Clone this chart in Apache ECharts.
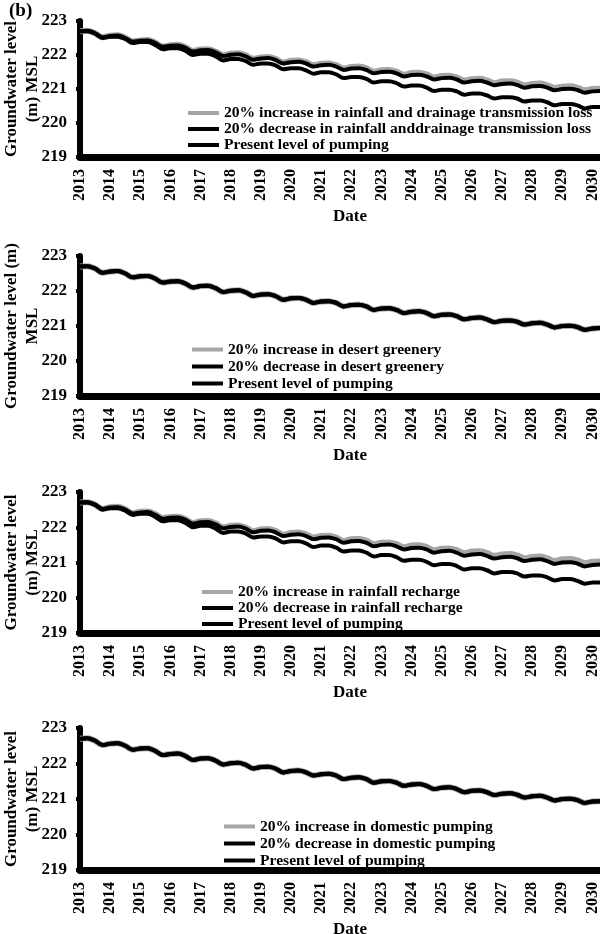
<!DOCTYPE html>
<html><head><meta charset="utf-8">
<script src="https://cdn.jsdelivr.net/npm/echarts@6/dist/echarts.min.js"></script>
<style>html,body{margin:0;padding:0;background:#fff}#c{width:600px;height:934px}</style>
</head><body><div id="c"></div>
<script>
// ---- tick labels ----
const years = ['2013','2014','2015','2016','2017','2018','2019','2020','2021','2022','2023','2024','2025','2026','2027','2028','2029','2030'];
const quarterMonths = ['01','04','07','10'];
const yTicks = [219, 220, 221, 222, 223];

// ---- series values (quarterly readings, Jan/Apr/Jul/Oct) ----
const presentLevel = [
  222.70,222.71,222.64,222.52, 222.56,222.57,222.50,222.39, 222.42,222.43,222.35,222.24,
  222.27,222.28,222.21,222.10, 222.14,222.15,222.08,221.97, 222.01,222.02,221.96,221.86,
  221.90,221.91,221.85,221.75, 221.79,221.80,221.75,221.66, 221.70,221.71,221.66,221.56,
  221.60,221.61,221.56,221.46, 221.50,221.51,221.46,221.37, 221.41,221.42,221.37,221.28,
  221.32,221.33,221.28,221.19, 221.23,221.24,221.19,221.11, 221.15,221.16,221.12,221.04,
  221.08,221.09,221.04,220.96, 221.00,221.01,220.97,220.89, 220.93,220.94
];
const rainDrainIncrease = [
  222.70,222.71,222.64,222.52, 222.57,222.58,222.51,222.40, 222.43,222.44,222.36,222.25,
  222.29,222.30,222.23,222.12, 222.16,222.17,222.10,221.99, 222.04,222.05,221.99,221.89,
  221.93,221.94,221.88,221.78, 221.83,221.84,221.79,221.70, 221.74,221.75,221.70,221.60,
  221.65,221.66,221.61,221.51, 221.55,221.56,221.51,221.42, 221.47,221.48,221.43,221.34,
  221.38,221.39,221.34,221.25, 221.29,221.30,221.25,221.17, 221.22,221.23,221.19,221.11,
  221.15,221.16,221.11,221.03, 221.07,221.08,221.04,220.96, 221.00,221.01
];
const rainDrainDecrease = [
  222.70,222.70,222.63,222.50, 222.54,222.54,222.47,222.35, 222.38,222.38,222.29,222.17,
  222.20,222.20,222.12,222.00, 222.04,222.04,221.96,221.84, 221.88,221.88,221.82,221.71,
  221.75,221.75,221.69,221.58, 221.61,221.61,221.55,221.45, 221.49,221.49,221.43,221.32,
  221.35,221.35,221.30,221.19, 221.23,221.23,221.17,221.07, 221.10,221.10,221.04,220.94,
  220.98,220.98,220.93,220.83, 220.87,220.87,220.81,220.72, 220.76,220.76,220.72,220.63,
  220.66,220.66,220.61,220.52, 220.56,220.56,220.52,220.43, 220.47,220.47
];
// desert greenery and domestic pumping scenarios overlap the present level in the figure
const desertIncrease = presentLevel.slice();
const desertDecrease = presentLevel.slice();
const rechargeIncrease = [
  222.70,222.71,222.64,222.52, 222.57,222.58,222.51,222.40, 222.44,222.45,222.37,222.26,
  222.29,222.30,222.23,222.12, 222.17,222.18,222.11,222.00, 222.04,222.05,221.99,221.89,
  221.94,221.95,221.89,221.79, 221.84,221.85,221.80,221.71, 221.75,221.76,221.71,221.61,
  221.66,221.67,221.62,221.52, 221.56,221.57,221.52,221.43, 221.48,221.49,221.44,221.35,
  221.39,221.40,221.35,221.26, 221.31,221.32,221.27,221.19, 221.23,221.24,221.20,221.12,
  221.16,221.17,221.12,221.04, 221.09,221.10,221.06,220.98, 221.02,221.03
];
const rechargeDecrease = [
  222.70,222.70,222.63,222.50, 222.54,222.54,222.47,222.35, 222.38,222.38,222.29,222.17,
  222.20,222.20,222.12,222.00, 222.04,222.04,221.96,221.84, 221.88,221.88,221.82,221.71,
  221.74,221.74,221.68,221.57, 221.60,221.60,221.54,221.44, 221.48,221.48,221.42,221.31,
  221.34,221.34,221.28,221.17, 221.21,221.21,221.15,221.05, 221.08,221.08,221.02,220.92,
  220.96,220.96,220.90,220.80, 220.84,220.84,220.78,220.69, 220.73,220.73,220.69,220.60,
  220.63,220.63,220.58,220.49, 220.53,220.53,220.48,220.40, 220.43,220.43
];
const domesticIncrease = presentLevel.slice();
const domesticDecrease = presentLevel.slice();

// ---- legend texts ----
const namesRainDrain = ['20% increase in rainfall and drainage transmission loss','20% decrease in rainfall anddrainage transmission loss','Present level of pumping'];
const namesDesert = ['20% increase in desert greenery','20% decrease in desert greenery','Present level of pumping'];
const namesRecharge = ['20% increase in rainfall recharge','20% decrease in rainfall recharge','Present level of pumping'];
const namesDomestic = ['20% increase in domestic pumping','20% decrease in domestic pumping','Present level of pumping'];
const yTitles = ['Groundwater level\n(m) MSL','Groundwater level (m)\nMSL','Groundwater level\n(m) MSL','Groundwater level\n(m) MSL'];

// ---- build ----
const categories = [];
years.forEach(y => quarterMonths.forEach(m => categories.push(y + '-' + m)));
categories.length = presentLevel.length;

const panels = [
  {top: 21, bottom: 777, names: namesRainDrain, data: [rainDrainIncrease, rainDrainDecrease, presentLevel], lg: {left: 188, top: 105, lh: 15.7}},
  {top: 256, bottom: 538, names: namesDesert, data: [desertIncrease, desertDecrease, presentLevel], lg: {left: 192, top: 341, lh: 17}},
  {top: 492, bottom: 301, names: namesRecharge, data: [rechargeIncrease, rechargeDecrease, presentLevel], lg: {left: 202, top: 584, lh: 15.3}},
  {top: 728, bottom: 64, names: namesDomestic, data: [domesticIncrease, domesticDecrease, presentLevel], lg: {left: 224, top: 818, lh: 17}}
];

const FONT = 'Liberation Serif';
const grid = [], xAxis = [], yAxis = [], series = [], legend = [];
const colors = ['#a5a5a5', '#000000', '#000000'];
const widths = [6, 4, 4];

panels.forEach((p, i) => {
  grid.push({left: 80, right: 0, top: p.top, bottom: p.bottom, containLabel: false, outerBoundsMode: 'none'});
  xAxis.push({
    type: 'category', gridIndex: i, data: categories, boundaryGap: false,
    axisLine: {show: true, lineStyle: {color: '#000', width: 7}},
    axisTick: {show: false},
    axisLabel: {interval: 3, rotate: 90, margin: 12, fontFamily: FONT, fontWeight: 'bold', fontSize: 16, color: '#000',
      formatter: v => v.slice(0, 4)},
    splitLine: {show: false},
    name: 'Date', nameLocation: 'middle', nameGap: 51, nameMoveOverlap: false,
    nameTextStyle: {fontFamily: FONT, fontWeight: 'bold', fontSize: 17, color: '#000', padding: [0, 0, 0, 20]}
  });
  yAxis.push({
    type: 'value', gridIndex: i, min: yTicks[0], max: yTicks[yTicks.length - 1], interval: 1,
    axisLine: {show: true, lineStyle: {color: '#000', width: 6}},
    axisTick: {show: true, length: 4, lineStyle: {color: '#000', width: 4}},
    axisLabel: {margin: 13, fontFamily: FONT, fontWeight: 'bold', fontSize: 17, color: '#000'},
    splitLine: {show: false},
    name: yTitles[i], nameLocation: 'middle', nameRotate: 90, nameGap: 37, nameMoveOverlap: false,
    nameTextStyle: {fontFamily: FONT, fontWeight: 'bold', fontSize: 17, lineHeight: 21, color: '#000'}
  });
  p.names.forEach((n, k) => {
    series.push({
      type: 'line', name: n, xAxisIndex: i, yAxisIndex: i, data: p.data[k],
      symbol: 'none', smooth: 0.35, z: 2 + k,
      lineStyle: {color: colors[k], width: widths[k]},
      itemStyle: {color: colors[k]},
      emphasis: {disabled: true}
    });
  });
  legend.push({
    orient: 'vertical', left: p.lg.left, top: p.lg.top, itemGap: 0, padding: 0,
    itemWidth: 31, itemHeight: 4, selectedMode: false,
    data: p.names.map(n => ({name: n, icon: 'rect'})),
    textStyle: {fontFamily: FONT, fontWeight: 'bold', fontSize: 15.6, color: '#000', lineHeight: p.lg.lh}
  });
});

const chart = echarts.init(document.getElementById('c'), null, {renderer: 'canvas'});
chart.setOption({
  animation: false,
  backgroundColor: '#fff',
  grid, xAxis, yAxis, series, legend,
  graphic: [{type: 'text', left: 9, top: 2, style: {text: '(b)', fontFamily: FONT, fontWeight: 'bold', fontSize: 19, fill: '#000'}}]
});
</script>
</body></html>
